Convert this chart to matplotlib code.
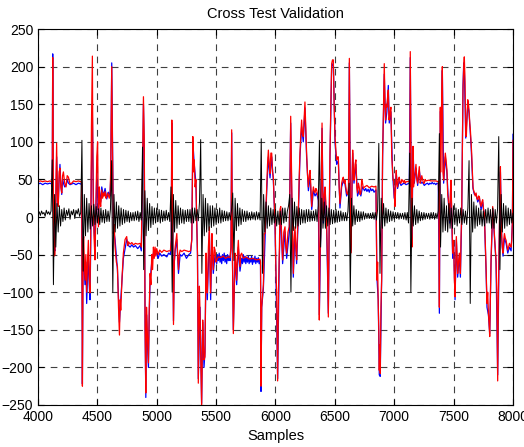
import numpy as np
import matplotlib
matplotlib.use('Agg')
from matplotlib import pyplot as plt

# red trace (model output)
red_x = [4000, 4020, 4040, 4060, 4080, 4100, 4115, 4120, 4124, 4130, 4135, 4143, 4150, 4157, 4164, 4171, 4178, 4185, 4192, 4200,
         4207, 4214, 4225, 4236, 4246, 4256, 4270, 4284, 4300, 4320, 4340, 4360, 4368, 4374, 4380, 4385, 4390, 4396, 4403, 4410,
         4417, 4424, 4431, 4438, 4444, 4450, 4458, 4462, 4466, 4473, 4480, 4488, 4495, 4502, 4509, 4517, 4522, 4528, 4537, 4544,
         4551, 4558, 4565, 4572, 4579, 4586, 4593, 4600, 4607, 4612, 4621, 4628, 4635, 4642, 4649, 4660, 4669, 4678, 4686, 4692,
         4697, 4708, 4719, 4733, 4747, 4755, 4762, 4776, 4790, 4805, 4820, 4840, 4860, 4870, 4880, 4888, 4895, 4902, 4908, 4914,
         4922, 4930, 4937, 4944, 4951, 4958, 4965, 4972, 4979, 4986, 4993, 5000, 5012, 5025, 5042, 5060, 5085, 5100, 5115, 5122,
         5127, 5133, 5141, 5148, 5155, 5169, 5176, 5183, 5190, 5197, 5211, 5230, 5250, 5270, 5285, 5295, 5304, 5310, 5316, 5323,
         5330, 5337, 5343, 5350, 5359, 5365, 5370, 5378, 5387, 5393, 5398, 5406, 5410, 5415, 5420, 5426, 5435, 5443, 5448, 5454,
         5465, 5470, 5476, 5484, 5491, 5498, 5505, 5519, 5540, 5560, 5580, 5600, 5617, 5625, 5631, 5638, 5645, 5652, 5659, 5666,
         5673, 5680, 5687, 5694, 5701, 5708, 5715, 5729, 5750, 5780, 5810, 5840, 5869, 5874, 5878, 5884, 5890, 5898, 5905, 5912,
         5919, 5926, 5933, 5940, 5947, 5954, 5961, 5968, 5975, 5982, 5989, 5996, 6004, 6010, 6018, 6025, 6032, 6038, 6044, 6052,
         6060, 6070, 6080, 6087, 6094, 6105, 6116, 6122, 6128, 6133, 6136, 6143, 6150, 6157, 6164, 6171, 6178, 6185, 6192, 6199,
         6206, 6213, 6220, 6227, 6234, 6241, 6248, 6255, 6262, 6270, 6277, 6284, 6291, 6298, 6305, 6312, 6319, 6326, 6333, 6340,
         6347, 6354, 6361, 6365, 6369, 6374, 6380, 6386, 6392, 6397, 6403, 6410, 6417, 6424, 6431, 6438, 6445, 6452, 6459, 6466,
         6473, 6480, 6487, 6494, 6501, 6508, 6515, 6522, 6529, 6536, 6543, 6550, 6557, 6564, 6571, 6578, 6585, 6592, 6599, 6608,
         6615, 6622, 6628, 6634, 6639, 6645, 6650, 6656, 6661, 6670, 6677, 6684, 6691, 6698, 6705, 6712, 6719, 6726, 6733, 6740,
         6750, 6770, 6790, 6810, 6830, 6846, 6854, 6860, 6865, 6870, 6874, 6879, 6882, 6888, 6894, 6902, 6909, 6916, 6922, 6927,
         6932, 6938, 6944, 6950, 6955, 6958, 6965, 6972, 6979, 6986, 6990, 6995, 7000, 7006, 7012, 7017, 7022, 7028, 7035, 7042,
         7050, 7057, 7064, 7071, 7078, 7085, 7092, 7099, 7110, 7127, 7131, 7135, 7140, 7145, 7149, 7153, 7158, 7163, 7169, 7176,
         7183, 7190, 7197, 7204, 7211, 7218, 7225, 7232, 7239, 7246, 7253, 7260, 7267, 7290, 7310, 7330, 7350, 7371, 7376, 7380,
         7384, 7388, 7393, 7399, 7405, 7410, 7416, 7423, 7430, 7437, 7444, 7450, 7456, 7462, 7467, 7472, 7478, 7485, 7492, 7496,
         7500, 7506, 7512, 7518, 7523, 7528, 7534, 7541, 7548, 7553, 7557, 7562, 7568, 7574, 7579, 7585, 7590, 7596, 7602, 7607,
         7613, 7619, 7625, 7630, 7636, 7641, 7647, 7652, 7658, 7663, 7669, 7675, 7682, 7689, 7696, 7703, 7710, 7717, 7724, 7731,
         7738, 7745, 7752, 7759, 7766, 7773, 7777, 7781, 7787, 7793, 7798, 7804, 7810, 7815, 7822, 7829, 7836, 7843, 7850, 7857,
         7864, 7871, 7877, 7883, 7889, 7894, 7900, 7905, 7910, 7916, 7922, 7928, 7935, 7942, 7949, 7956, 7963, 7970, 7977, 7984,
         7990, 7995, 8000]
red_y = [47, 48, 47, 48, 47, 48, 47, 40, 212, 20, -52, -50, 30, 98, 20, 14, 60, 65, 40, 32,
         55, 60, 45, 40, 55, 53, 44, 45, 48, 47, 48, 47, 46, -225, -30, -26, -60, -84, -50, -100,
         -60, -31, -80, -101, -20, 120, 214, 80, 14, -30, -57, 20, 80, 100, -13, 40, 20, 14, 36, 25,
         32, 28, 34, 25, 27, 32, 29, 25, 30, 60, 200, 80, -22, -10, -40, -60, -66, -120, -157, -110,
         -124, -80, -48, -30, -26, -38, -33, -36, -34, -37, -35, -36, -35, -40, 60, 160, 100, -150, -234, -120,
         -160, -194, -120, -75, -90, -50, -70, -40, -55, -40, -52, -42, -50, -44, -47, -44, -46, -45, -45, -30,
         129, 0, -143, -60, -40, -22, -50, -70, -50, -44, -46, -44, -45, -46, -45, -30, 107, 60, 76, 40,
         50, -10, -48, -221, -92, -130, -181, -252, -137, -170, -190, -186, -120, -48, -80, -101, -40, -13, -60, -101,
         -22, -50, -70, -40, -44, -60, -57, -53, -54, -52, -55, -53, -54, -40, 116, -60, -155, -100, -48, -60,
         -84, -50, -31, -55, -66, -50, -48, -55, -53, -56, -55, -57, -56, -60, -225, -120, -106, -90, -22, -22,
         10, 40, 70, 89, 70, 58, 85, 85, 60, 53, 20, -4, -75, -100, -218, -100, -48, 10, 14, -30,
         -57, -20, -13, -40, -48, -20, -13, 40, 134, 80, 40, -20, -75, -30, -13, -40, -57, -20, 5, 50,
         85, 110, 129, 110, 107, 130, 153, 120, 85, 55, 40, 55, 62, 40, 14, 30, 40, 35, 32, 38,
         36, 30, 27, 10, -137, -60, -22, 50, 125, 40, -4, 30, 40, 20, -13, -60, -133, 0, 85, 150,
         204, 209, 209, 150, 107, 90, 76, 80, 80, 40, 18, 30, 45, 50, 53, 45, 49, 40, 32, 30,
         40, 211, 60, -48, -20, 50, 89, 60, 49, 70, 76, 40, 32, 45, 40, 30, 32, 50, 45, 38,
         40, 42, 39, 41, 40, 41, -84, -60, -115, -150, -204, -170, -208, -120, -84, 85, 140, 204, 150, 129,
         150, 146, 160, 169, 130, 129, 140, 146, 80, 62, 49, 49, 30, 14, 40, 62, 45, 40, 50, 53,
         45, 45, 50, 48, 46, 49, 45, 47, 47, 48, 40, 220, 100, -20, -40, 40, 94, 40, 49, 60,
         70, 50, 45, 55, 67, 45, 49, 55, 50, 45, 45, 50, 48, 49, 48, 48, 48, 47, 20, -120,
         40, 146, 60, 151, 200, 60, 49, 70, 85, 75, 62, 30, 23, 10, -4, 30, 49, 0, -48, -40,
         -31, -80, -106, -60, -26, -50, -75, -60, -48, -60, -75, -30, 5, 100, 169, 200, 213, 180, 110, 107,
         130, 156, 150, 142, 125, 116, 100, 85, 60, 40, 35, 32, 28, 32, 25, 23, 28, 27, 18, 14,
         20, 23, 10, 5, -30, -66, -90, -115, -100, -128, -140, -159, -100, -57, -20, 14, -5, -22, -40, -57,
         -100, -218, -100, -40, 30, 67, 0, -26, -40, -48, -30, -22, -28, -31, -38, -44, -40, -35, -38, -40,
         -30, -4, 102]

# blue trace (measured)
blue_x = [4000, 4020, 4040, 4060, 4080, 4100, 4115, 4120, 4124, 4130, 4135, 4143, 4150, 4157, 4164, 4171, 4178, 4185, 4192, 4200,
          4207, 4214, 4225, 4236, 4246, 4256, 4270, 4284, 4300, 4320, 4340, 4360, 4368, 4374, 4380, 4390, 4396, 4403, 4410, 4417,
          4424, 4431, 4438, 4444, 4450, 4458, 4466, 4473, 4480, 4488, 4495, 4509, 4517, 4528, 4537, 4551, 4565, 4579, 4593, 4607,
          4612, 4621, 4628, 4635, 4649, 4669, 4686, 4697, 4719, 4747, 4762, 4776, 4790, 4805, 4820, 4840, 4860, 4870, 4880, 4888,
          4895, 4902, 4908, 4914, 4922, 4930, 4937, 4944, 4958, 4972, 4986, 5000, 5012, 5025, 5042, 5060, 5085, 5100, 5115, 5122,
          5127, 5133, 5141, 5148, 5155, 5169, 5183, 5197, 5211, 5230, 5250, 5270, 5285, 5295, 5304, 5316, 5330, 5343, 5350, 5365,
          5378, 5387, 5398, 5406, 5415, 5426, 5443, 5454, 5465, 5476, 5491, 5505, 5512, 5519, 5526, 5533, 5540, 5547, 5554, 5561,
          5568, 5575, 5582, 5589, 5596, 5603, 5610, 5617, 5625, 5631, 5638, 5645, 5652, 5659, 5673, 5687, 5701, 5715, 5722, 5729,
          5736, 5743, 5750, 5757, 5764, 5771, 5778, 5785, 5792, 5799, 5806, 5813, 5820, 5827, 5834, 5841, 5848, 5855, 5862, 5869,
          5874, 5878, 5884, 5898, 5912, 5926, 5940, 5954, 5968, 5982, 5996, 6004, 6018, 6032, 6044, 6060, 6080, 6094, 6116, 6128,
          6136, 6150, 6164, 6178, 6192, 6206, 6220, 6234, 6248, 6262, 6277, 6291, 6305, 6319, 6333, 6347, 6361, 6369, 6380, 6392,
          6403, 6417, 6431, 6445, 6459, 6473, 6487, 6501, 6515, 6529, 6543, 6557, 6571, 6585, 6599, 6615, 6622, 6634, 6650, 6661,
          6677, 6691, 6705, 6719, 6733, 6750, 6760, 6770, 6780, 6790, 6800, 6810, 6820, 6830, 6846, 6854, 6865, 6874, 6882, 6894,
          6902, 6916, 6927, 6938, 6950, 6958, 6972, 6986, 7000, 7017, 7028, 7042, 7057, 7071, 7085, 7099, 7113, 7127, 7135, 7145,
          7149, 7158, 7169, 7183, 7197, 7211, 7225, 7239, 7253, 7267, 7280, 7290, 7300, 7310, 7320, 7330, 7340, 7350, 7360, 7371,
          7380, 7388, 7399, 7405, 7416, 7430, 7444, 7456, 7467, 7478, 7492, 7500, 7512, 7523, 7534, 7548, 7557, 7568, 7579, 7585,
          7590, 7602, 7619, 7630, 7647, 7663, 7675, 7689, 7703, 7717, 7731, 7745, 7759, 7773, 7781, 7793, 7804, 7815, 7829, 7843,
          7857, 7871, 7883, 7894, 7905, 7916, 7928, 7942, 7956, 7970, 7984, 7995, 8000]
blue_y = [44, 45, 43, 45, 44, 45, 44, 40, 217, 20, -40, -45, 20, 80, 30, 20, 50, 70, 45, 30,
          50, 45, 40, 42, 50, 45, 43, 44, 45, 43, 45, 44, 43, -222, -40, -70, -90, -60, -115, -80,
          -50, -90, -110, -40, 60, 140, 30, -20, -40, 10, 60, 0, 35, 20, 40, 28, 38, 24, 33, 28,
          50, 205, 90, -15, -30, -70, -140, -110, -55, -30, -38, -40, -37, -40, -38, -42, -38, -45, 40, 150,
          90, -150, -240, -130, -170, -200, -130, -85, -60, -48, -50, -48, -55, -48, -52, -50, -53, -48, -50, -30,
          125, 0, -138, -60, -45, -30, -75, -50, -52, -48, -55, -50, -48, -30, 100, 70, 45, -50, -215, -120,
          -248, -140, -200, -180, -60, -110, -20, -110, -30, -75, -50, -62, -50, -58, -48, -60, -52, -62, -50, -58,
          -48, -60, -52, -62, -50, -58, -52, -58, -40, 112, -60, -150, -100, -55, -90, -40, -72, -55, -62, -50,
          -60, -52, -62, -54, -60, -52, -62, -55, -60, -52, -63, -55, -60, -52, -62, -55, -60, -54, -62, -58,
          -65, -232, -120, -95, -30, 35, 80, 52, 80, 48, -10, -80, -215, -55, 10, -62, -20, -55, -20, 125,
          35, -80, -20, -62, 0, 80, 120, 100, 145, 80, 35, 55, 10, 35, 28, 32, 22, -130, -25, 118,
          -8, 35, -18, -128, 80, 200, 205, 100, 70, 75, 12, 40, 48, 44, 28, 35, 205, -45, 85, 45,
          70, 28, 36, 28, 40, 35, 38, 34, 37, 33, 38, 35, 37, 33, 36, -80, -110, -210, -212, -80,
          80, 190, 125, 140, 175, 125, 140, 58, 25, 58, 38, 48, 42, 44, 45, 43, 44, 45, 212, -20,
          -35, 90, 45, 65, 42, 62, 45, 46, 42, 44, 45, 43, 45, 44, 46, 44, 45, 43, 45, 44,
          -128, 140, 145, 195, 45, 80, 58, 20, -8, 45, -55, -35, -110, -30, -80, -52, -80, 0, 175, 205,
          200, 105, 150, 138, 95, 38, 30, 30, 20, 25, 10, 20, 0, -70, -120, -130, -155, -62, 10, -25,
          -60, -210, -45, 60, -30, -52, -28, -35, -48, -40, -45, -8, 110]

# black trace (error), one value every 10 samples
black_x = np.arange(4000, 8001, 10)
black_y = [3, 7, 2, 8, 4, 6, 1, 9, 4, 7, 3, 8, 76, -90, 30, -40, 18, -20, 15, -12,
           10, -6, 12, -4, 9, 2, 11, -3, 8, 3, 10, -2, 9, 4, 11, 1, 6, 102, -72, 30,
           -25, 25, -20, 18, -16, 15, -12, 17, -10, 14, -8, 11, -10, 12, -7, 9, -8, 10, -6, 8,
           -6, 10, 75, -100, 30, -20, 20, -15, 15, -12, 12, -10, 10, -8, 9, -6, 8, -7, 6, -5,
           6, -5, 7, -4, 8, -6, 6, -4, 93, -70, 35, -25, 25, -18, 18, -14, 14, -10, 12, -8,
           12, -6, 10, -8, 9, -6, 8, -5, 9, -4, 6, -6, 40, -100, 30, -20, 22, -15, 15, -10,
           12, -8, 10, -9, 9, -6, 10, -6, 10, -8, 12, -8, 12, -5, 10, -5, 20, 103, -75, 30,
           -25, 25, -20, 18, -18, 15, -14, 15, -12, 12, -10, 10, -8, 12, -8, 9, -6, 8, -5, 7,
           -5, 6, -4, 10, 32, -58, 25, -18, 18, -12, 12, -10, 10, -6, 8, -6, 8, -4, 6, -4,
           7, -3, 6, -4, 7, -3, 6, -4, 104, -75, 30, -20, 20, -15, 15, -12, 12, -10, 10, -8,
           10, -12, 8, -10, 8, -10, 12, -8, 12, -6, 8, 15, 30, -100, 25, -18, 20, -15, 14, -12,
           12, -10, 10, -8, 9, -8, 10, -6, 10, -6, 8, -5, 8, -5, 10, -6, 15, 102, -40, 25,
           -15, 20, -15, 15, -12, 12, -10, 10, -9, 9, -8, 10, -7, 8, -6, 8, -5, 6, -5, 6,
           -5, 8, 45, -103, 25, -12, 15, -10, 10, -6, 8, -6, 7, -4, 7, -3, 5, -2, 5, -2,
           5, -2, 6, -3, 6, -4, 10, 98, -75, 25, -15, 18, -12, 12, -8, 10, -6, 8, -5, 7,
           -3, 6, -2, 6, -3, 5, -2, 5, -3, 6, -4, 6, -8, 85, -100, 25, -12, 15, -10, 10,
           -8, 8, -5, 6, -4, 6, -3, 5, -2, 5, -3, 6, -2, 6, -3, 5, -2, 8, 111, -40,
           30, -20, 25, -18, 15, -20, 18, -15, 12, -15, 15, -10, 12, -12, 10, -8, 12, -10, 10, -8,
           8, -10, 12, 75, -115, 30, -20, 20, -15, 15, -12, 12, -10, 10, -12, 8, -12, 10, -8, 12,
           -8, 10, -15, 12, -15, 10, -8, 10, 107, -70, 30, -20, 18, -15, 15, -12, 12, -10, 10, -8,
           5]

plt.rcParams['font.family'] = ['Liberation Sans', 'DejaVu Sans']
fig = plt.figure(figsize=(5.24, 4.47), dpi=100)
ax = fig.add_axes([0.0725, 0.094, 0.9065, 0.841])

ax.plot(blue_x, blue_y, color='blue', linewidth=0.9)
ax.plot(red_x, red_y, color='red', linewidth=0.9)
ax.plot(black_x, black_y, color='black', linewidth=0.7)

ax.set_xlim(4000, 8000)
ax.set_ylim(-250, 250)
ax.set_xticks(np.arange(4000, 8001, 500))
ax.set_yticks(np.arange(-250, 251, 50))
ax.tick_params(direction='in', top=True, right=True, labelsize=10, length=4)
ax.grid(True, color='0.25', linestyle=(0, (6, 5)), linewidth=0.8)
ax.set_title('Cross Test Validation', fontsize=10.5, pad=8)
ax.set_xlabel('Samples', fontsize=10.5, labelpad=4)

fig.savefig('out.png', dpi=100)
